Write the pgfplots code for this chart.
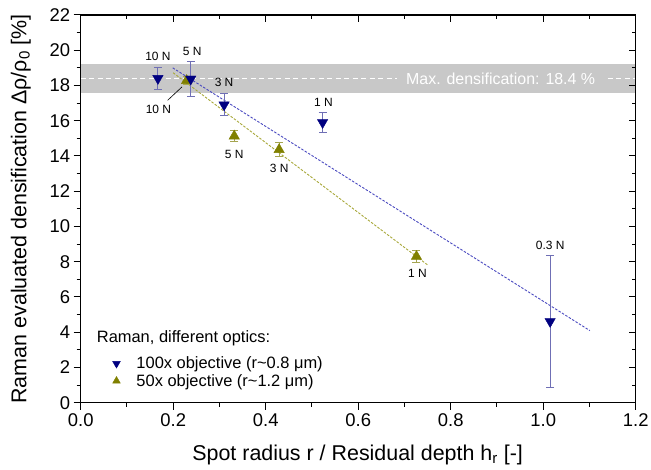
\documentclass[border=0pt]{standalone}
\usepackage{pgfplots}
\pgfplotsset{compat=1.18}
\usepackage{fontspec}
\setmainfont{Liberation Sans}
\definecolor{navyb}{HTML}{000080}
\definecolor{olivem}{HTML}{808000}
\definecolor{blueerr}{HTML}{6F6FB5}
\definecolor{oliveerr}{HTML}{A5A550}
\definecolor{blueline}{HTML}{4A4AC0}
\definecolor{oliveline}{HTML}{A8A83A}
\definecolor{bandgray}{HTML}{C8C8C8}

\pgfplotstableread{
x y e
0.167 18.40 0.63
0.238 18.37 0.98
0.310 16.90 0.63
0.523 15.90 0.57
1.015 4.61 3.74
}\bluedata
\pgfplotstableread{
x y e
0.229 18.28 0.25
0.332 15.13 0.30
0.429 14.36 0.38
0.726 8.30 0.34
}\olivedata

\begin{document}
\begin{tikzpicture}
\pgfplotsset{
  commonax/.style={width=555bp, height=387.7bp, scale only axis,
    xmin=0, xmax=1.2, ymin=0, ymax=22,
    xtick={0,0.2,0.4,0.6,0.8,1.0,1.2}, ytick={0,2,4,6,8,10,12,14,16,18,20,22},
    minor x tick num=1, minor y tick num=1,
    major tick length=7bp, minor tick length=4bp,
    every tick/.style={black, line width=1bp},
    axis line style={line width=1.2bp}},
  legimg/.style={legend image code/.code={\draw[##1] plot coordinates {(0bp,0bp)}; \path[draw=none, fill=none] (-5bp,-3bp) rectangle (18bp,3bp);}},
}
\path[use as bounding box] (-80.7bp,-67.3bp) rectangle (570.3bp,402.7bp);
\begin{axis}[commonax, tick align=outside, xtick pos=bottom, ytick pos=left,
  /pgf/number format/assume math mode=true,
  ticklabel style={font=\fontsize{18.5}{20}\selectfont},
  xticklabel style={/pgf/number format/.cd, fixed, fixed zerofill, precision=1},
  xlabel={Spot radius r / Residual depth h\textsubscript{r} [-]},
  ylabel={Raman evaluated densification Δρ/ρ\textsubscript{0} [\%]},
  label style={font=\fontsize{21.5}{24}\selectfont},
  xlabel style={at={(axis description cs:0.499,-0.134)}, anchor=center},
  ylabel style={at={(axis description cs:-0.108,0.5)}, anchor=center},
  legend style={draw=none, fill=none, at={(axis cs:0.064,2.78)}, anchor=north west,
    font=\fontsize{16.5}{18}\selectfont, row sep=0pt, inner sep=1pt},
  legend cell align=left,
  clip=false,
]
% band
\addplot[draw=none, fill=bandgray, forget plot] coordinates {(0,17.58) (1.2,17.58) (1.2,19.24) (0,19.24)} -- cycle;
\addplot[white, line width=1bp, dash pattern=on 5bp off 3.5bp, forget plot] coordinates {(0,18.4) (1.2,18.4)};
\node[fill=bandgray, text=white, inner xsep=9bp, inner ysep=1bp, font=\fontsize{16}{18}\selectfont] at (axis cs:0.908,18.4) {Max. densification: 18.4 \%};
% fits
\addplot[blueline, line width=0.9bp, dash pattern=on 2.5bp off 1.5bp, forget plot] coordinates {(0.199,19.0) (1.101,4.09)};
\addplot[oliveline, line width=0.9bp, dash pattern=on 2.5bp off 1.5bp, forget plot] coordinates {(0.2,18.72) (0.752,7.78)};
% olive data
\addplot[forget plot, only marks, mark=triangle*, mark size=6bp, olivem, mark options={fill=olivem, draw=olivem},
  error bars/.cd, y dir=both, y explicit,
  error bar style={oliveerr, line width=1bp},
  error mark options={rotate=90, mark size=4bp, oliveerr, line width=1bp}]
  table[x=x, y=y, y error=e] {\olivedata};
% blue data
\addplot[forget plot, only marks, mark=triangle*, mark size=6bp, navyb, mark options={fill=navyb, draw=navyb, rotate=180},
  error bars/.cd, y dir=both, y explicit,
  error bar style={blueerr, line width=1bp},
  error mark options={rotate=90, mark size=4bp, blueerr, line width=1bp}]
  table[x=x, y=y, y error=e] {\bluedata};
% leader line
\addplot[black, line width=0.6bp, forget plot] coordinates {(0.188,17.16) (0.219,17.92)};
% labels
\begin{scope}[every node/.style={font=\fontsize{12}{13}\selectfont, inner sep=0pt}]
\node at (axis cs:0.167,19.66) {10 N};
\node at (axis cs:0.241,19.91) {5 N};
\node at (axis cs:0.310,18.15) {3 N};
\node at (axis cs:0.525,17.05) {1 N};
\node at (axis cs:1.015,8.92) {0.3 N};
\node at (axis cs:0.168,16.63) {10 N};
\node at (axis cs:0.332,14.07) {5 N};
\node at (axis cs:0.429,13.32) {3 N};
\node at (axis cs:0.728,7.35) {1 N};
\end{scope}
\node[anchor=west, inner sep=0pt, font=\fontsize{16.5}{18}\selectfont] at (axis cs:0.0346,3.68) {Raman, different optics:};
\addlegendimage{legimg, only marks, mark=triangle*, mark size=4.5bp, navyb, mark options={fill=navyb, rotate=180}}
\addlegendentry{100x objective (r\textasciitilde 0.8 μm)}
\addlegendimage{legimg, only marks, mark=triangle*, mark size=4.5bp, olivem, mark options={fill=olivem}}
\addlegendentry{50x objective (r\textasciitilde 1.2 μm)}
\end{axis}
\begin{axis}[commonax, tick align=inside, xtick pos=top, ytick pos=right,
  xticklabels={}, yticklabels={}]
\end{axis}
\end{tikzpicture}
\end{document}
